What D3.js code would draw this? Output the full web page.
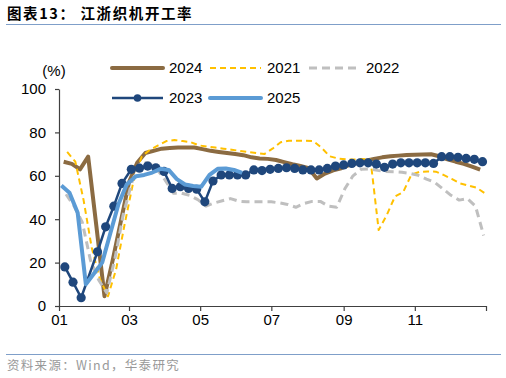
<!DOCTYPE html>
<html>
<head>
<meta charset="utf-8">
<script src="https://cdn.jsdelivr.net/npm/d3@7"></script>
<style>
  body { margin: 0; background: #fff; }
  svg { display: block; font-family: "Liberation Sans", Arial, sans-serif; }
</style>
</head>
<body>
<svg width="506" height="378"></svg>
<script>
// weekly series, first value on the start date, one value per week
const seriesNames = ["2024", "2021", "2022", "2023", "2025"]
const startDates = ["2024-01-05", "2021-01-08", "2022-01-07", "2023-01-06", "2025-01-03"]

const values2024 = [66.5, 65.5, 63, 68.8, 37, 4.5, 21, 39, 57, 66, 70.5, 71.5, 72.5, 72.8, 73, 73, 73, 72.3, 71.5, 71,
  70.5, 70, 69.5, 68.5, 68, 67.8, 67.3, 66.3, 65.3, 64.5, 63.5, 58.8, 61, 62.5, 63.5, 65, 66, 67, 67.8, 68.5,
  69, 69.3, 69.6, 69.7, 69.8, 69.9, 69, 67.6, 66.5, 65.5, 64.2, 62.8]
const values2021 = [71, 66.5, 49, 27, 12.5, 4.5, 17, 37, 58, 69, 72, 74, 76, 76.5, 76, 75.5, 74, 73.5, 73, 72.5,
  72, 71.5, 71, 70.5, 70, 72.5, 75.5, 76.2, 76.2, 76.2, 76, 73, 69, 68, 67.6, 67.5, 67.8, 67.5, 35, 42,
  50.5, 52.5, 60.5, 61.8, 62, 61.9, 60.3, 58.5, 56.5, 55.5, 54.5, 52]
const values2022 = [51.5, 46, 38.5, 21, 12, 6, 22, 42, 58, 66, 66, 63, 58, 52, 52, 51, 49, 46, 47.5, 48.5,
  49.5, 48.3, 48, 48, 48, 48, 47.5, 46.8, 45.5, 47.2, 48.2, 48.2, 46, 45.5, 54, 60, 63, 63.2, 62.5, 62,
  61.9, 61.6, 61.1, 60.2, 58.5, 57, 54, 51, 48.8, 49.5, 46, 32.5]
const values2023 = [18, 11, 3.8, null, 25, 36.5, 46, 56.5, 63, 63.5, 64.5, 63.7, 62, 54.2, 55, 54.2, 53.8, 48, 57.6, 60.4,
  60.4, 60.4, 60.4, 62.7, 62.4, 63, 63.4, 63.7, 63.4, 62.7, 62.7, 62.7, 63.4, 64.5, 65, 65.7, 66, 66, 65.4, 63.9,
  65.4, 66, 66, 66, 66, 65.7, 68.8, 68.8, 68.5, 68, 67.6, 66.5]
const values2025 = [55.5, 52.2, 43, 10, 15, 20, 33.5, 47, 56, 59.8, 60.4, 61.5, 63.2, 62.7, 58.5, 56, 55.3, 55, 60.4, 63.2,
  63.4, 62.7, 61.3]

const seriesValues = [values2024, values2021, values2022, values2023, values2025]
const colors = ["#8b6b42", "#ffc000", "#bfbfbf", "#1f477c", "#5b9bd5"]

const yTicks = [0, 20, 40, 60, 80, 100]
const xTickMonths = [0, 2, 4, 6, 8, 10]

let svg = d3.select("svg"),
    margin = {top: 89, right: 20, bottom: 72, left: 59},
    width = +svg.attr("width") - margin.left - margin.right,
    height = +svg.attr("height") - margin.top - margin.bottom

// every date is put on the same calendar year so the years overlay
let parseDate = d3.timeParse("%Y-%m-%d")
function onYear(d) {
    return new Date(2000, d.getMonth(), d.getDate())
}

let x = d3.scaleTime()
    .domain([new Date(2000, 0, 1), new Date(2001, 0, 1)])
    .range([margin.left, margin.left + width])
let y = d3.scaleLinear()
    .domain([0, 100])
    .range([margin.top + height, margin.top])

let series = seriesNames.map(function (name, k) {
    let start = parseDate(startDates[k])
    let points = seriesValues[k].map(function (v, i) {
        return {date: onYear(d3.timeDay.offset(start, 7 * i)), value: v}
    })
    return {name: name, color: colors[k], points: points}
})

// title and rules
svg.append("text")
    .attr("x", 7)
    .attr("y", 19)
    .style("font-family", "'Noto Sans CJK SC', sans-serif")
    .style("font-size", "14.5px")
    .style("font-weight", "bold")
    .style("letter-spacing", "1.6px")
    .text("图表13：  江浙织机开工率")
svg.append("line")
    .attr("x1", 6).attr("x2", 501)
    .attr("y1", 24.5).attr("y2", 24.5)
    .attr("stroke", "#7f9fc9")
    .attr("stroke-width", 1.2)
svg.append("line")
    .attr("x1", 6).attr("x2", 501)
    .attr("y1", 354.5).attr("y2", 354.5)
    .attr("stroke", "#7f9fc9")
    .attr("stroke-width", 1.2)
svg.append("text")
    .attr("x", 7)
    .attr("y", 370)
    .style("font-family", "'Noto Sans CJK SC', sans-serif")
    .style("font-size", "12.5px")
    .style("letter-spacing", "1.3px")
    .style("fill", "#999")
    .text("资料来源：Wind，华泰研究")

// axes
let xAxis = d3.axisBottom(x)
    .tickValues(xTickMonths.map(function (m) { return new Date(2000, m, 1) }).concat([new Date(2001, 0, 1)]))
    .tickFormat(function (d) {
        return d.getFullYear() === 2000 ? d3.timeFormat("%m")(d) : ""
    })
    .tickSize(5)
    .tickSizeOuter(0)
let yAxis = d3.axisLeft(y)
    .tickValues(yTicks)
    .tickSize(4)
    .tickSizeOuter(0)

let gx = svg.append("g")
    .attr("transform", "translate(0," + (margin.top + height) + ")")
    .call(xAxis)
gx.selectAll("text").attr("dy", "0.82em").attr("y", 7)
let gy = svg.append("g")
    .attr("transform", "translate(" + margin.left + ",0)")
    .call(yAxis)
gy.selectAll("text").attr("x", -13)

svg.selectAll(".domain, .tick line").attr("stroke", "#404040").attr("stroke-width", 1.2)
svg.selectAll(".tick text")
    .style("font-family", "'Liberation Sans', Arial, sans-serif")
    .style("font-size", "15px")
    .style("fill", "#000")

svg.append("text")
    .attr("x", 54)
    .attr("y", 76)
    .attr("text-anchor", "middle")
    .style("font-size", "15px")
    .text("(%)")

// series styles
function styleLine(sel, name) {
    if (name === "2024") sel.attr("stroke-width", 4)
    if (name === "2021") sel.attr("stroke-width", 2).attr("stroke-dasharray", "6,4")
    if (name === "2022") sel.attr("stroke-width", 3).attr("stroke-dasharray", "8,5")
    if (name === "2023") sel.attr("stroke-width", 2.5)
    if (name === "2025") sel.attr("stroke-width", 4)
    return sel
}

let line = d3.line()
    .x(function (d) { return x(d.date) })
    .y(function (d) { return y(d.value) })

series.forEach(function (s) {
    let pts = s.points.filter(function (d) { return d.value !== null })
    let path = svg.append("path")
        .datum(pts)
        .attr("fill", "none")
        .attr("stroke", s.color)
        .attr("stroke-linejoin", "round")
        .attr("d", line)
    styleLine(path, s.name)
    if (s.name === "2023") {
        svg.append("g")
            .selectAll("circle")
            .data(pts)
            .enter()
            .append("circle")
            .attr("cx", function (d) { return x(d.date) })
            .attr("cy", function (d) { return y(d.value) })
            .attr("r", 4.6)
            .attr("fill", s.color)
    }
})

// legend, two rows
let legendPos = [[112, 68], [210, 68], [309, 68], [112, 98], [210, 98]]
series.forEach(function (s, k) {
    let lx = legendPos[k][0], ly = legendPos[k][1]
    let l = svg.append("line")
        .attr("x1", lx).attr("x2", lx + 51)
        .attr("y1", ly).attr("y2", ly)
        .attr("stroke", s.color)
        .attr("stroke-linecap", s.name === "2024" || s.name === "2025" ? "round" : "butt")
    styleLine(l, s.name)
    if (s.name === "2023") {
        svg.append("circle")
            .attr("cx", lx + 25.5).attr("cy", ly)
            .attr("r", 3.8)
            .attr("fill", s.color)
    }
    svg.append("text")
        .attr("x", lx + 57)
        .attr("y", ly)
        .attr("dy", "0.36em")
        .style("font-size", "15px")
        .text(s.name)
})
</script>
</body>
</html>
